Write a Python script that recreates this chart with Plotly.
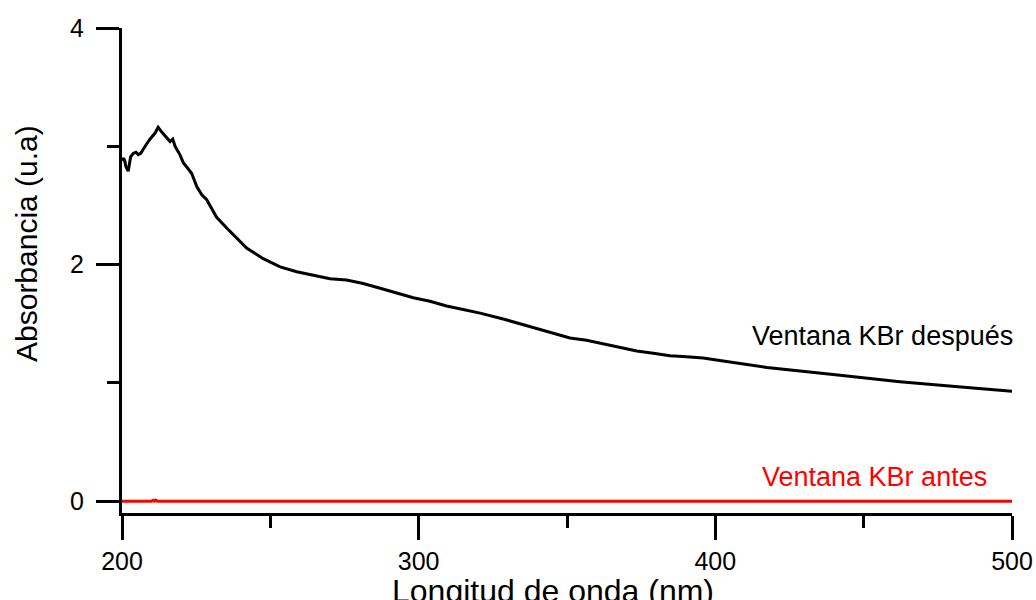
import plotly.graph_objects as go

# Wavelength (nm) and absorbance for "Ventana KBr después"
wl_despues = [200.0, 200.6, 201.0, 201.3, 202.1, 202.9, 203.8, 204.7, 205.5, 206.3,
              207.8, 209.4, 211.1, 212.2, 213.4, 215.1, 216.2, 217.1, 217.9, 219.5,
              220.7, 222.3, 223.5, 225.2, 226.9, 228.5, 231.9, 235.3, 238.7, 242.0,
              247.6, 253.3, 258.9, 264.5, 270.1, 275.7, 281.3, 287.0, 292.6, 298.2,
              303.8, 309.4, 315.0, 320.7, 328.5, 334.1, 339.8, 345.4, 351.0, 356.6,
              362.2, 367.8, 373.5, 379.1, 384.7, 390.3, 395.9, 401.5, 417.4, 439.7,
              462.2, 484.8, 500.0]
abs_despues = [2.88, 2.90, 2.87, 2.83, 2.79, 2.91, 2.94, 2.95, 2.93, 2.94,
               3.00, 3.06, 3.11, 3.16, 3.12, 3.07, 3.04, 3.06, 3.00, 2.93,
               2.86, 2.81, 2.77, 2.66, 2.59, 2.55, 2.40, 2.31, 2.22, 2.14,
               2.05, 1.98, 1.94, 1.91, 1.88, 1.87, 1.84, 1.80, 1.76, 1.72,
               1.69, 1.65, 1.62, 1.59, 1.54, 1.50, 1.46, 1.42, 1.38, 1.36,
               1.33, 1.30, 1.27, 1.25, 1.23, 1.22, 1.21, 1.19, 1.13, 1.07,
               1.01, 0.96, 0.93]

# "Ventana KBr antes"
wl_antes = [200.0, 210.0, 210.6, 211.0, 211.4, 212.0, 300.0, 400.0, 500.0]
abs_antes = [0.0, 0.0, 0.008, 0.0, 0.008, 0.0, 0.0, 0.0, 0.0]

x_ticks = [200, 300, 400, 500]
x_minor = [250, 350, 450]
y_ticks = [0, 2, 4]
y_minor = [1, 3]

label_despues = "Ventana KBr después"
label_antes = "Ventana KBr antes"
x_title = "Longitud de onda (nm)"
y_title = "Absorbancia (u.a)"

FONT = "Arial, Liberation Sans, sans-serif"

W, H = 1036, 600
# plot area in pixels
L, R, T, B = 122, 1012, 28, 513
def px(xp):
    return (xp - L) / (R - L)
def py(yp):
    return (B - yp) / (B - T)

fig = go.Figure()
fig.add_trace(go.Scatter(x=wl_antes, y=abs_antes, mode="lines",
                         line=dict(color="#ff0000", width=3), showlegend=False))
fig.add_trace(go.Scatter(x=wl_despues, y=abs_despues, mode="lines",
                         line=dict(color="#000000", width=3), showlegend=False))

fig.update_layout(
    width=W, height=H,
    margin=dict(l=L, r=W - R, t=T, b=H - B, autoexpand=False),
    paper_bgcolor="white", plot_bgcolor="white",
    font=dict(family=FONT, size=24, color="black"),
    xaxis=dict(range=[200, 500], tickvals=x_ticks, ticks="outside", ticklen=24,
               tickwidth=3, tickcolor="black", showline=True, linewidth=3,
               linecolor="black", showgrid=False, zeroline=False,
               automargin=False, ticklabelstandoff=0,
               tickfont=dict(size=25),
               minor=dict(tickvals=x_minor, ticks="outside", ticklen=12,
                          tickwidth=3, tickcolor="black", showgrid=False)),
    yaxis=dict(range=[-0.1, 4], tickvals=y_ticks, ticks="outside", ticklen=23,
               tickwidth=3, tickcolor="black", showline=True, linewidth=3,
               linecolor="black", showgrid=False, zeroline=False,
               automargin=False, ticklabelstandoff=7,
               tickfont=dict(size=25),
               minor=dict(tickvals=y_minor, ticks="outside", ticklen=12,
                          tickwidth=3, tickcolor="black", showgrid=False)),
    annotations=[
        dict(text=label_despues, x=px(1015), y=py(336), xref="paper", yref="paper",
             xanchor="right", yanchor="middle", showarrow=False,
             font=dict(size=27, color="black")),
        dict(text=label_antes, x=px(989), y=py(477), xref="paper", yref="paper",
             xanchor="right", yanchor="middle", showarrow=False,
             font=dict(size=27, color="#ff0000")),
        dict(text=x_title, x=px(553), y=py(571), xref="paper", yref="paper",
             xanchor="center", yanchor="top", showarrow=False,
             font=dict(size=32, color="black")),
        dict(text=y_title, x=px(26), y=py(244), xref="paper", yref="paper",
             xanchor="center", yanchor="middle", textangle=-90, showarrow=False,
             font=dict(size=30, color="black")),
    ],
)

fig.write_html("out.html",
               config={"displayModeBar": False},
               post_script="document.body.style.margin='0';"
                           "document.body.style.overflow='hidden';")
